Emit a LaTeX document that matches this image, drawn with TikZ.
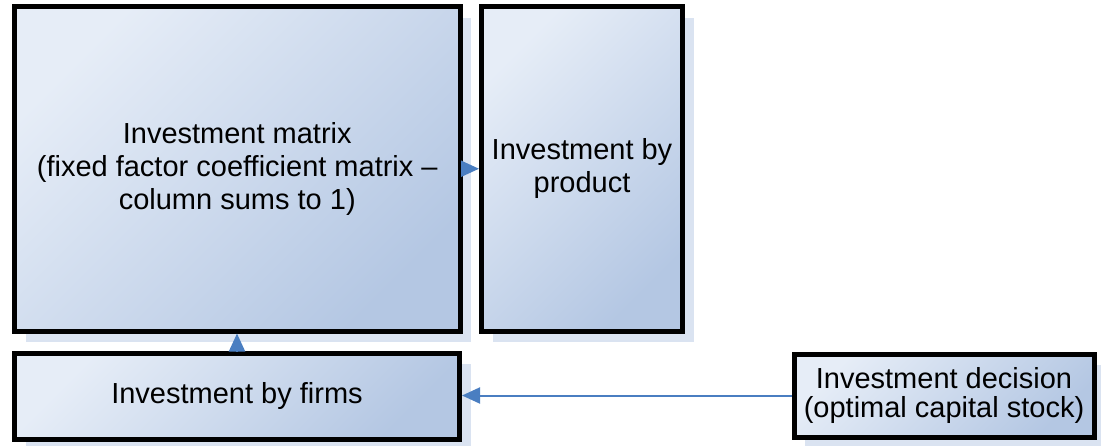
\documentclass[tikz,border=0pt]{standalone}
\usepackage{fontspec}
\setmainfont{Liberation Sans}
\usetikzlibrary{arrows.meta,shadows}
\definecolor{boxLight}{RGB}{230,237,247}
\definecolor{boxDark}{RGB}{180,199,227}
\definecolor{shadowBlue}{RGB}{218,227,241}
\definecolor{arrowBlue}{RGB}{74,126,193}

\tikzset{
  blockbox/.style={draw=black, line width=5pt, rectangle, align=center, inner sep=0pt,
    top color=boxLight, bottom color=boxDark, shading angle=45,
    drop shadow={shadow xshift=11pt, shadow yshift=-11pt, fill=shadowBlue, opacity=1},
    font=\fontsize{29}{33}\selectfont},
  flow/.style={draw=arrowBlue, line width=2pt, -{Triangle[length=18pt,width=16pt]}}
}

\begin{document}
\begin{tikzpicture}[x=1pt,y=-1pt]
  \useasboundingbox (0,0) rectangle (1101,445);
  % boxes
  \node[blockbox, minimum width=445.5pt, minimum height=324.5pt] (matrix) at (237.25,168.75)
    {Investment matrix\\(fixed factor coefficient matrix --\\column sums to 1)};
  \node[blockbox, minimum width=201pt, minimum height=324.5pt] (product) at (582,168.75)
    {Investment by\\product};
  \node[blockbox, minimum width=445pt, minimum height=86.5pt] (firms) at (237,396.25)
    {Investment by firms};
  \node[blockbox, minimum width=300pt, minimum height=83pt,
        font=\fontsize{29}{29}\selectfont] (decision) at (944,395.5)
    {Investment decision\\(optimal capital stock)};
  % arrows
  \draw[flow] (firms.north) -- (firms.north |- matrix.south);
  \draw[flow] (matrix) -- (product);
  \draw[flow] (decision.west) -- (decision.west -| firms.east);
\end{tikzpicture}
\end{document}
